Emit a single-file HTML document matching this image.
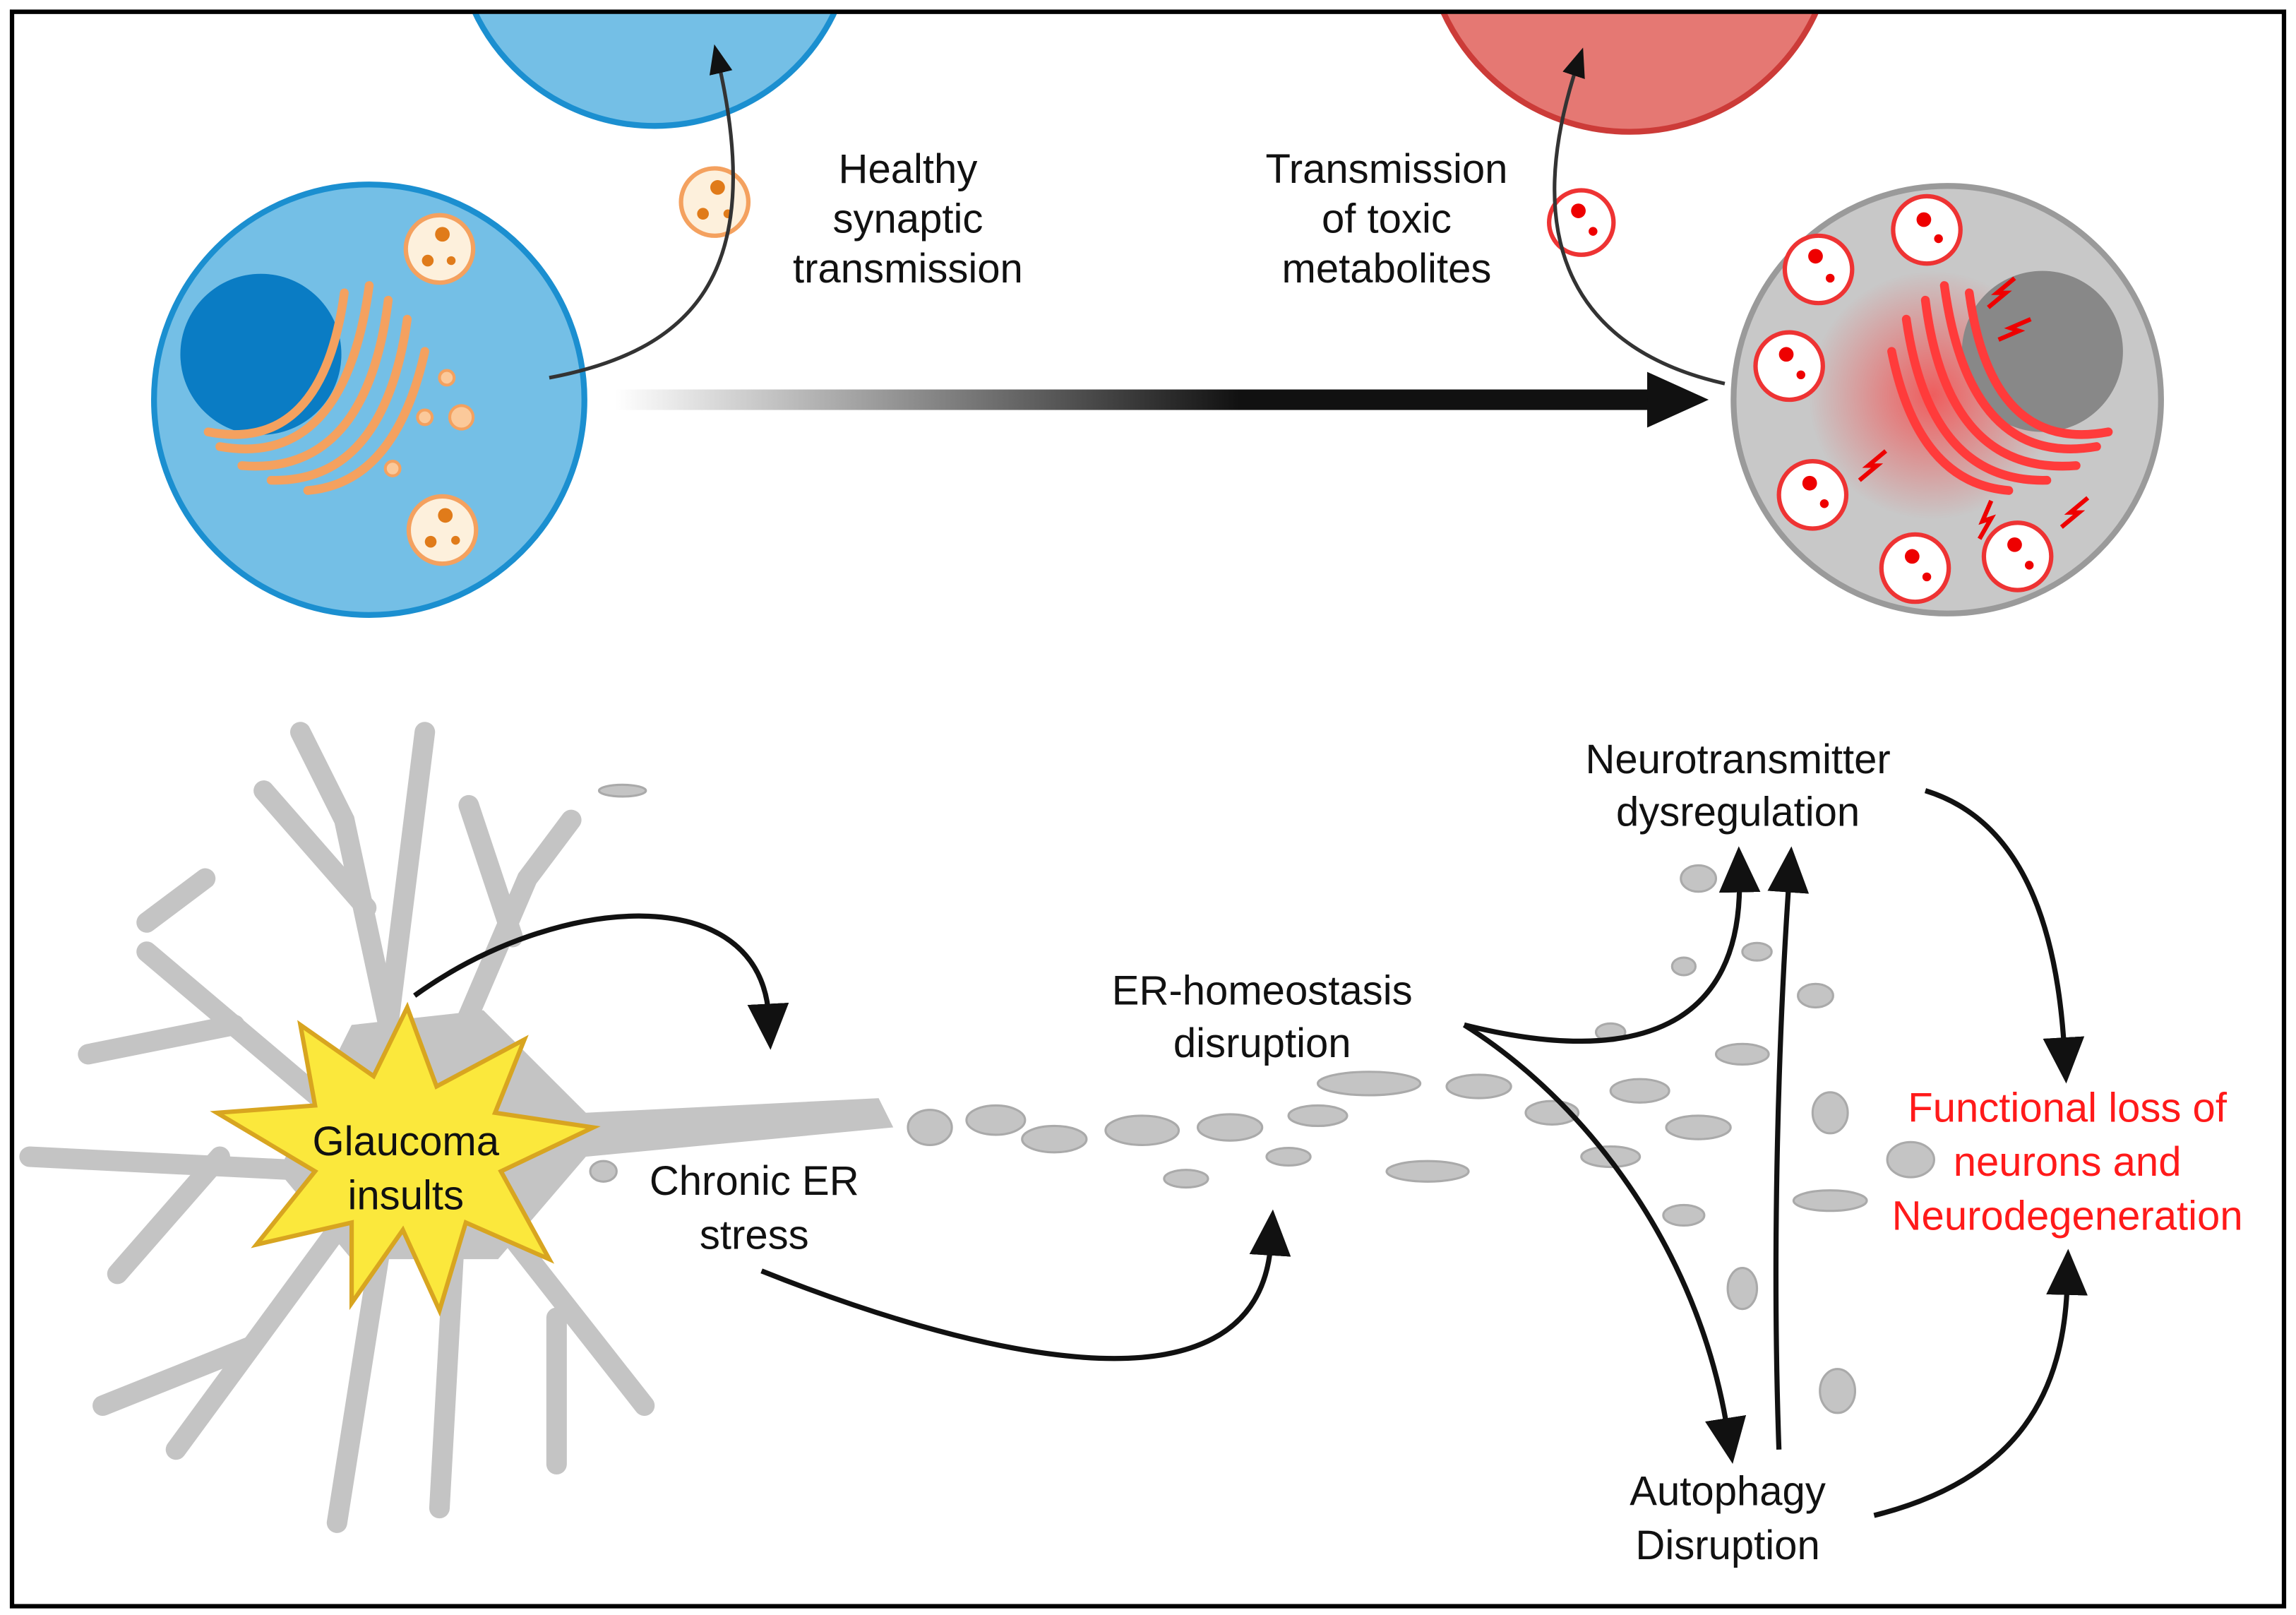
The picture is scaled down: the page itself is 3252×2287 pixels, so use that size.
<!DOCTYPE html>
<html><head><meta charset="utf-8"><style>
html,body{margin:0;padding:0;background:#fff;}
svg{display:block;}
text{font-family:"Liberation Sans",sans-serif;font-size:28px;fill:#111;text-anchor:middle;}
</style></head><body>
<svg width="3252" height="2287" viewBox="0 0 1568 1103" xmlns="http://www.w3.org/2000/svg">
<defs>
<linearGradient id="g1" x1="0" x2="1"><stop offset="0" stop-color="#fff"/><stop offset="0.6" stop-color="#111"/><stop offset="1" stop-color="#111"/></linearGradient>
<linearGradient id="g2" x1="0" y1="1" x2="0" y2="0"><stop offset="0" stop-color="#ddd"/><stop offset="0.5" stop-color="#222"/></linearGradient>
<radialGradient id="rg"><stop offset="0" stop-color="#ff3030" stop-opacity="0.7"/><stop offset="1" stop-color="#ff3030" stop-opacity="0"/></radialGradient>
<marker id="ah" viewBox="0 0 10 10" refX="3" refY="5" markerWidth="9" markerHeight="9" orient="auto" markerUnits="strokeWidth"><path d="M0,0.5 L10,5 L0,9.5 z" fill="#111"/></marker>
<marker id="ahs" viewBox="0 0 10 10" refX="5" refY="5" markerWidth="8" markerHeight="8" orient="auto"><path d="M0,1 L10,5 L0,9 z" fill="#111"/></marker>
</defs>
<rect x="0" y="0" width="1568" height="1103" fill="#fff"/>
<rect x="8" y="8" width="1552" height="1089" fill="none" stroke="#000" stroke-width="3"/>
<circle cx="447" cy="-50" r="136" fill="#74bfe6" stroke="#1b8fd0" stroke-width="4"/>
<circle cx="1113" cy="-50" r="140" fill="#e57873" stroke="#cc3b38" stroke-width="4"/>
<rect x="8" y="0" width="1552" height="9" fill="#fff"/>
<line x1="8" y1="8" x2="1560" y2="8" stroke="#000" stroke-width="3"/>
<circle cx="252" cy="273" r="147" fill="#74bfe6" stroke="#1b8fd0" stroke-width="4"/>
<circle cx="178" cy="242" r="55" fill="#0a7cc4"/>
<g fill="none" stroke="#f4a15f" stroke-width="6" stroke-linecap="round">
<path d="M142,295 Q220,310 235,200"/><path d="M150,305 Q235,320 252,195"/><path d="M165,318 Q250,325 265,205"/><path d="M185,328 Q262,330 278,218"/><path d="M210,335 Q270,330 290,240"/>
</g>
<g fill="#fbc99a" stroke="#f4a15f" stroke-width="2"><circle cx="315" cy="285" r="8"/><circle cx="290" cy="285" r="5"/><circle cx="305" cy="258" r="5"/><circle cx="268" cy="320" r="5"/></g>
<g><circle cx="300" cy="170" r="23" fill="#fdf0dc" stroke="#f4a15f" stroke-width="3"/><circle cx="302" cy="160" r="5" fill="#e07b1a"/><circle cx="292" cy="178" r="4" fill="#e07b1a"/><circle cx="308" cy="178" r="3" fill="#e07b1a"/>
<circle cx="302" cy="362" r="23" fill="#fdf0dc" stroke="#f4a15f" stroke-width="3"/><circle cx="304" cy="352" r="5" fill="#e07b1a"/><circle cx="294" cy="370" r="4" fill="#e07b1a"/><circle cx="311" cy="369" r="3" fill="#e07b1a"/>
<circle cx="488" cy="138" r="23" fill="#fdf0dc" stroke="#f4a15f" stroke-width="3"/><circle cx="490" cy="128" r="5" fill="#e07b1a"/><circle cx="480" cy="146" r="4" fill="#e07b1a"/><circle cx="497" cy="146" r="3" fill="#e07b1a"/></g>
<circle cx="1330" cy="273" r="146" fill="#c8c8c8" stroke="#9a9a9a" stroke-width="4"/>
<circle cx="1320" cy="270" r="85" fill="url(#rg)"/>
<circle cx="1395" cy="240" r="55" fill="#888"/>
<g fill="none" stroke="#ff3b3b" stroke-width="6" stroke-linecap="round">
<path d="M1440,295 Q1360,310 1345,200"/><path d="M1432,305 Q1345,320 1328,195"/><path d="M1418,318 Q1330,325 1315,205"/><path d="M1398,328 Q1318,330 1302,218"/><path d="M1372,335 Q1310,330 1292,240"/>
</g>
<g fill="#fff" stroke="#e33" stroke-width="3">
<circle cx="1242" cy="184" r="23"/><circle cx="1316" cy="157" r="23"/><circle cx="1222" cy="250" r="23"/><circle cx="1238" cy="338" r="23"/><circle cx="1308" cy="388" r="23"/><circle cx="1378" cy="380" r="23"/><circle cx="1080" cy="152" r="22"/></g>
<g fill="#e00">
<circle cx="1240" cy="175" r="5"/><circle cx="1314" cy="150" r="5"/><circle cx="1220" cy="242" r="5"/><circle cx="1236" cy="330" r="5"/><circle cx="1306" cy="380" r="5"/><circle cx="1376" cy="372" r="5"/><circle cx="1078" cy="144" r="5"/>
<circle cx="1250" cy="190" r="3"/><circle cx="1324" cy="163" r="3"/><circle cx="1230" cy="256" r="3"/><circle cx="1246" cy="344" r="3"/><circle cx="1316" cy="394" r="3"/><circle cx="1386" cy="386" r="3"/><circle cx="1088" cy="158" r="3"/>
</g>
<g fill="none" stroke="#e00" stroke-width="3"><path d="M1358,210 l12,-10 -6,0 12,-10"/><path d="M1365,232 l14,-6 -6,-2 14,-6"/><path d="M1270,328 l12,-10 -6,0 12,-10"/><path d="M1352,368 l8,-14 -6,2 6,-14"/><path d="M1408,360 l12,-10 -6,0 12,-10"/></g>
<rect x="420" y="266" width="710" height="14" fill="url(#g1)"/>
<path d="M1125,254 L1167,273 L1125,292 z" fill="#111"/>
<path d="M375,258 C470,240 525,190 490,40" fill="none" stroke="#333" stroke-width="2.5" marker-end="url(#ahs)"/>
<path d="M1178,262 C1080,240 1035,170 1078,42" fill="none" stroke="#333" stroke-width="2.5" marker-end="url(#ahs)"/>
<text x="620" y="125">Healthy</text><text x="620" y="159">synaptic</text><text x="620" y="193">transmission</text>
<text x="947" y="125">Transmission</text><text x="947" y="159">of toxic</text><text x="947" y="193">metabolites</text>
<g fill="none" stroke="#c4c4c4" stroke-width="14" stroke-linecap="round">
<path d="M278,760 L235,560 L205,500"/><path d="M250,620 L180,540"/><path d="M265,700 L290,500"/><path d="M300,740 L360,600 L390,560"/><path d="M350,640 L320,550"/><path d="M230,760 L100,650"/><path d="M160,700 L60,720"/><path d="M220,800 L20,790"/><path d="M150,790 L80,870"/><path d="M230,840 L120,990"/><path d="M260,850 L230,1040"/><path d="M310,850 L300,1030"/><path d="M330,820 L440,960"/><path d="M380,900 L380,1000"/><path d="M170,920 L70,960"/><path d="M140,600 L100,630"/>
</g>
<path d="M240,700 L330,690 L400,760 L600,750 L610,770 L400,790 L340,860 L240,860 L190,800 z" fill="#c4c4c4"/>
<g fill="#c4c4c4" stroke="#aaa" stroke-width="1.5">
<ellipse cx="635" cy="770" rx="15" ry="12"/><ellipse cx="680" cy="765" rx="20" ry="10"/><ellipse cx="720" cy="778" rx="22" ry="9"/><ellipse cx="780" cy="772" rx="25" ry="10"/><ellipse cx="840" cy="770" rx="22" ry="9"/><ellipse cx="900" cy="762" rx="20" ry="7"/><ellipse cx="935" cy="740" rx="35" ry="8"/><ellipse cx="1010" cy="742" rx="22" ry="8"/><ellipse cx="975" cy="800" rx="28" ry="7"/><ellipse cx="880" cy="790" rx="15" ry="6"/><ellipse cx="810" cy="805" rx="15" ry="6"/><ellipse cx="1060" cy="760" rx="18" ry="8"/><ellipse cx="1120" cy="745" rx="20" ry="8"/><ellipse cx="1100" cy="790" rx="20" ry="7"/><ellipse cx="1160" cy="770" rx="22" ry="8"/><ellipse cx="1190" cy="720" rx="18" ry="7"/><ellipse cx="1160" cy="600" rx="12" ry="9"/><ellipse cx="1240" cy="680" rx="12" ry="8"/><ellipse cx="1150" cy="830" rx="14" ry="7"/><ellipse cx="1250" cy="760" rx="12" ry="14"/><ellipse cx="1305" cy="792" rx="16" ry="12"/><ellipse cx="1250" cy="820" rx="25" ry="7"/><ellipse cx="1255" cy="950" rx="12" ry="15"/><ellipse cx="1190" cy="880" rx="10" ry="14"/><ellipse cx="1100" cy="705" rx="10" ry="6"/><ellipse cx="1200" cy="650" rx="10" ry="6"/><ellipse cx="1150" cy="660" rx="8" ry="6"/>
<ellipse cx="425" cy="540" rx="16" ry="4"/><ellipse cx="412" cy="800" rx="9" ry="7"/>
</g>
<path d="M278,688 L298,742 L358,710 L338,760 L405,770 L342,800 L375,860 L318,835 L300,895 L275,840 L240,890 L240,835 L175,850 L215,800 L148,760 L215,755 L205,700 L255,735 z" fill="#fbe83c" stroke="#d8a520" stroke-width="3"/>
<text x="277" y="789">Glaucoma</text><text x="277" y="826">insults</text>
<g fill="none" stroke="#111" stroke-width="3.5" marker-end="url(#ah)">
<path d="M283,680 C380,610 520,600 525,695"/>
<path d="M520,868 C650,920 860,980 868,848"/>
<path d="M1000,700 C1120,730 1190,700 1188,600"/>
<path d="M1000,700 C1080,750 1160,850 1180,978"/>
<path d="M1215,990 C1210,850 1215,700 1222,600"/>
<path d="M1315,540 C1380,560 1405,630 1410,718"/>
<path d="M1280,1035 C1380,1010 1410,950 1412,875"/>
</g>
<text x="515" y="816">Chronic ER</text><text x="515" y="853">stress</text>
<text x="862" y="686">ER-homeostasis</text><text x="862" y="722">disruption</text>
<text x="1187" y="528">Neurotransmitter</text><text x="1187" y="564">dysregulation</text>
<text x="1180" y="1028">Autophagy</text><text x="1180" y="1065">Disruption</text>
<text x="1412" y="766" style="fill:#ff1a1a">Functional loss of</text><text x="1412" y="803" style="fill:#ff1a1a">neurons and</text><text x="1412" y="840" style="fill:#ff1a1a">Neurodegeneration</text>
</svg>
</body></html>
